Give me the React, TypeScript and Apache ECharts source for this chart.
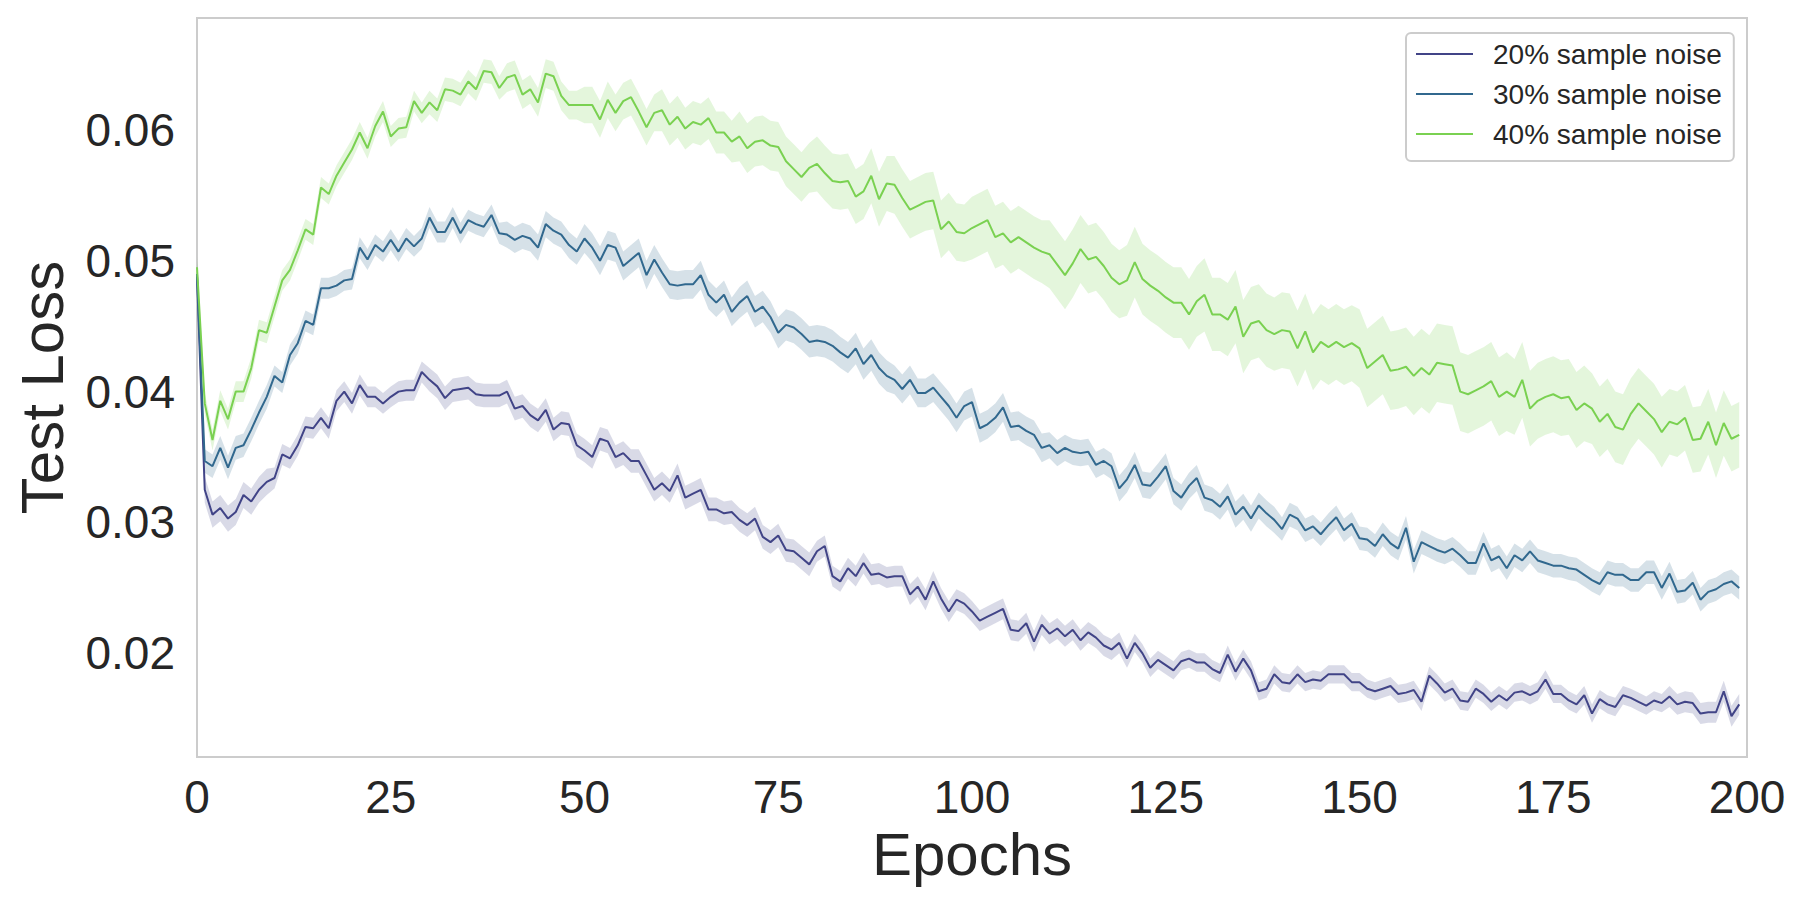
import React, { useEffect, useRef } from "react";
import * as echarts from "echarts";

// ---- data ----
const EPOCHS: number[] = Array.from({ length: 200 }, (_, i) => i);

const NAMES = ["20% sample noise", "30% sample noise", "40% sample noise"];
const COLORS = ["#414487", "#31688e", "#7ad151"];

const LOSS_20 = [
  0.0488, 0.0325, 0.0306, 0.0311, 0.0303, 0.0308, 0.0321, 0.0316, 0.0325, 0.0331,
  0.0334, 0.0352, 0.0349, 0.0359, 0.0373, 0.0372, 0.0380, 0.0372, 0.0393, 0.0400,
  0.0391, 0.0405, 0.0396, 0.0396, 0.0391, 0.0396, 0.0400, 0.0401, 0.0401, 0.0415,
  0.0409, 0.0404, 0.0395, 0.0401, 0.0402, 0.0403, 0.0398, 0.0397, 0.0397, 0.0397,
  0.0400, 0.0387, 0.0389, 0.0382, 0.0378, 0.0386, 0.0371, 0.0376, 0.0375, 0.0359,
  0.0355, 0.0350, 0.0364, 0.0362, 0.0350, 0.0353, 0.0347, 0.0347, 0.0336, 0.0325,
  0.0330, 0.0324, 0.0336, 0.0319, 0.0322, 0.0325, 0.0310, 0.0310, 0.0307, 0.0308,
  0.0302, 0.0298, 0.0303, 0.0289, 0.0285, 0.0290, 0.0279, 0.0278, 0.0273, 0.0268,
  0.0278, 0.0282, 0.0259, 0.0255, 0.0265, 0.0259, 0.0269, 0.0260, 0.0261, 0.0258,
  0.0259, 0.0259, 0.0245, 0.0251, 0.0241, 0.0255, 0.0242, 0.0232, 0.0241, 0.0238,
  0.0232, 0.0225, 0.0228, 0.0231, 0.0234, 0.0218, 0.0217, 0.0223, 0.0209, 0.0222,
  0.0215, 0.0219, 0.0213, 0.0218, 0.0210, 0.0216, 0.0212, 0.0206, 0.0203, 0.0208,
  0.0196, 0.0208, 0.0200, 0.0189, 0.0195, 0.0191, 0.0187, 0.0194, 0.0196, 0.0193,
  0.0193, 0.0188, 0.0185, 0.0199, 0.0186, 0.0196, 0.0187, 0.0171, 0.0173, 0.0184,
  0.0178, 0.0177, 0.0184, 0.0178, 0.0180, 0.0179, 0.0184, 0.0184, 0.0184, 0.0178,
  0.0178, 0.0173, 0.0171, 0.0173, 0.0175, 0.0169, 0.0170, 0.0172, 0.0163, 0.0183,
  0.0177, 0.0170, 0.0173, 0.0164, 0.0163, 0.0173, 0.0169, 0.0163, 0.0168, 0.0164,
  0.0170, 0.0171, 0.0168, 0.0171, 0.0180, 0.0169, 0.0169, 0.0164, 0.0161, 0.0168,
  0.0154, 0.0165, 0.0161, 0.0159, 0.0168, 0.0166, 0.0163, 0.0160, 0.0164, 0.0162,
  0.0167, 0.0161, 0.0163, 0.0162, 0.0154, 0.0155, 0.0155, 0.0171, 0.0152, 0.0161,
];

const LOSS_30 = [
  0.0490, 0.0347, 0.0343, 0.0357, 0.0342, 0.0357, 0.0359, 0.0371, 0.0384, 0.0396,
  0.0412, 0.0407, 0.0428, 0.0437, 0.0454, 0.0451, 0.0479, 0.0479, 0.0481, 0.0485,
  0.0486, 0.0510, 0.0501, 0.0512, 0.0507, 0.0516, 0.0507, 0.0517, 0.0511, 0.0517,
  0.0533, 0.0522, 0.0522, 0.0533, 0.0521, 0.0531, 0.0528, 0.0526, 0.0535, 0.0521,
  0.0520, 0.0516, 0.0519, 0.0517, 0.0510, 0.0528, 0.0523, 0.0520, 0.0512, 0.0507,
  0.0517, 0.0510, 0.0500, 0.0512, 0.0510, 0.0496, 0.0501, 0.0506, 0.0489, 0.0501,
  0.0491, 0.0482, 0.0481, 0.0482, 0.0482, 0.0489, 0.0474, 0.0468, 0.0474, 0.0461,
  0.0468, 0.0473, 0.0461, 0.0465, 0.0457, 0.0445, 0.0451, 0.0449, 0.0444, 0.0438,
  0.0439, 0.0438, 0.0435, 0.0430, 0.0426, 0.0433, 0.0421, 0.0428, 0.0418, 0.0412,
  0.0409, 0.0402, 0.0409, 0.0399, 0.0399, 0.0403, 0.0396, 0.0389, 0.0380, 0.0389,
  0.0392, 0.0372, 0.0375, 0.0380, 0.0388, 0.0373, 0.0374, 0.0370, 0.0367, 0.0357,
  0.0359, 0.0353, 0.0357, 0.0354, 0.0353, 0.0354, 0.0344, 0.0347, 0.0343, 0.0326,
  0.0333, 0.0344, 0.0329, 0.0328, 0.0335, 0.0343, 0.0324, 0.0319, 0.0328, 0.0334,
  0.0319, 0.0317, 0.0312, 0.0320, 0.0306, 0.0312, 0.0303, 0.0313, 0.0307, 0.0302,
  0.0295, 0.0306, 0.0303, 0.0294, 0.0297, 0.0291, 0.0298, 0.0304, 0.0294, 0.0299,
  0.0288, 0.0287, 0.0282, 0.0291, 0.0284, 0.0280, 0.0296, 0.0270, 0.0285, 0.0282,
  0.0279, 0.0277, 0.0280, 0.0275, 0.0269, 0.0269, 0.0284, 0.0271, 0.0274, 0.0265,
  0.0275, 0.0271, 0.0278, 0.0271, 0.0269, 0.0267, 0.0267, 0.0265, 0.0264, 0.0260,
  0.0256, 0.0253, 0.0262, 0.0260, 0.0260, 0.0256, 0.0256, 0.0262, 0.0262, 0.0250,
  0.0261, 0.0247, 0.0248, 0.0254, 0.0241, 0.0247, 0.0249, 0.0253, 0.0255, 0.0250,
];

const LOSS_40 = [
  0.0495, 0.0391, 0.0363, 0.0393, 0.0379, 0.0400, 0.0400, 0.0418, 0.0447, 0.0445,
  0.0465, 0.0485, 0.0493, 0.0508, 0.0524, 0.0520, 0.0556, 0.0551, 0.0565, 0.0575,
  0.0585, 0.0598, 0.0586, 0.0603, 0.0614, 0.0595, 0.0601, 0.0602, 0.0622, 0.0613,
  0.0621, 0.0615, 0.0631, 0.0630, 0.0627, 0.0637, 0.0631, 0.0645, 0.0644, 0.0632,
  0.0640, 0.0642, 0.0627, 0.0631, 0.0621, 0.0643, 0.0641, 0.0626, 0.0619, 0.0619,
  0.0619, 0.0619, 0.0608, 0.0623, 0.0613, 0.0622, 0.0625, 0.0614, 0.0602, 0.0613,
  0.0615, 0.0604, 0.0610, 0.0601, 0.0606, 0.0604, 0.0609, 0.0598, 0.0598, 0.0591,
  0.0595, 0.0586, 0.0591, 0.0592, 0.0588, 0.0587, 0.0576, 0.0570, 0.0564, 0.0571,
  0.0574, 0.0567, 0.0561, 0.0560, 0.0561, 0.0549, 0.0553, 0.0565, 0.0547, 0.0559,
  0.0558, 0.0548, 0.0539, 0.0542, 0.0545, 0.0546, 0.0524, 0.0530, 0.0522, 0.0521,
  0.0525, 0.0528, 0.0531, 0.0518, 0.0521, 0.0514, 0.0518, 0.0514, 0.0510, 0.0507,
  0.0505, 0.0497, 0.0489, 0.0498, 0.0509, 0.0501, 0.0503, 0.0496, 0.0487, 0.0482,
  0.0485, 0.0499, 0.0486, 0.0481, 0.0477, 0.0472, 0.0468, 0.0468, 0.0459, 0.0469,
  0.0474, 0.0459, 0.0459, 0.0455, 0.0465, 0.0442, 0.0452, 0.0454, 0.0447, 0.0444,
  0.0447, 0.0446, 0.0433, 0.0446, 0.0430, 0.0438, 0.0434, 0.0438, 0.0434, 0.0437,
  0.0433, 0.0418, 0.0423, 0.0428, 0.0416, 0.0417, 0.0419, 0.0412, 0.0418, 0.0413,
  0.0422, 0.0421, 0.0420, 0.0400, 0.0398, 0.0401, 0.0404, 0.0408, 0.0396, 0.0400,
  0.0396, 0.0409, 0.0387, 0.0393, 0.0396, 0.0398, 0.0395, 0.0396, 0.0386, 0.0391,
  0.0387, 0.0377, 0.0383, 0.0373, 0.0371, 0.0383, 0.0391, 0.0385, 0.0379, 0.0369,
  0.0377, 0.0375, 0.0380, 0.0363, 0.0364, 0.0377, 0.0359, 0.0376, 0.0364, 0.0367,
];

// half-width of the shaded confidence band, one value per block of 10 epochs
const BAND_20 = [0.0010, 0.0008, 0.0008, 0.0009, 0.0009, 0.0009, 0.0009, 0.0009, 0.0008, 0.0008,
  0.0008, 0.0008, 0.0007, 0.0007, 0.0007, 0.0007, 0.0007, 0.0007, 0.0007, 0.0008];
const BAND_30 = [0.0009, 0.0008, 0.0008, 0.0008, 0.0010, 0.0011, 0.0011, 0.0012, 0.0012, 0.0011,
  0.0011, 0.0010, 0.0010, 0.0010, 0.0009, 0.0009, 0.0009, 0.0009, 0.0009, 0.0009];
const BAND_40 = [0.0008, 0.0008, 0.0008, 0.0009, 0.0011, 0.0014, 0.0016, 0.0019, 0.0021, 0.0022,
  0.0024, 0.0026, 0.0027, 0.0028, 0.0029, 0.0030, 0.0030, 0.0029, 0.0027, 0.0025];

const X_TICKS = [0, 25, 50, 75, 100, 125, 150, 175, 200];

const FONT = "'Liberation Sans', Arial, 'DejaVu Sans', sans-serif";
const TEXT = "#262626";

function bandSeries(mean: number[], band: number[], color: string) {
  return {
    type: "custom",
    silent: true,
    z: 1,
    clip: true,
    data: [[EPOCHS[0], mean[0]]],
    encode: { x: 0, y: 1 },
    renderItem: (_params: any, api: any) => {
      const pts: number[][] = [];
      for (let i = 0; i < mean.length; i++) {
        pts.push(api.coord([EPOCHS[i], mean[i] + band[Math.floor(i / 10)]]));
      }
      for (let i = mean.length - 1; i >= 0; i--) {
        pts.push(api.coord([EPOCHS[i], mean[i] - band[Math.floor(i / 10)]]));
      }
      return {
        type: "polygon",
        shape: { points: pts },
        style: { fill: color, opacity: 0.2, stroke: "none" },
      };
    },
  };
}

function lineSeries(name: string, mean: number[], color: string) {
  return {
    type: "line",
    name,
    z: 3,
    symbol: "none",
    showSymbol: false,
    color,
    lineStyle: { width: 2, color },
    data: EPOCHS.map((e, i) => [e, mean[i]]),
  };
}

export default function App() {
  const ref = useRef<HTMLDivElement>(null);

  useEffect(() => {
    if (!ref.current) return;
    const chart = echarts.init(ref.current, undefined, { renderer: "svg" });
    const means = [LOSS_20, LOSS_30, LOSS_40];
    const bands = [BAND_20, BAND_30, BAND_40];
    chart.setOption({
      animation: false,
      backgroundColor: "#ffffff",
      textStyle: { fontFamily: FONT },
      grid: {
        left: 197,
        right: 59,
        top: 18,
        bottom: 150,
        show: true,
        borderColor: "#cccccc",
        borderWidth: 2,
        backgroundColor: "transparent",
      },
      legend: {
        data: NAMES.map((n) => ({ name: n, icon: "rect" })),
        orient: "vertical",
        left: 1406,
        top: 33,
        itemWidth: 57,
        itemHeight: 2,
        itemGap: 12,
        padding: [7, 12, 13, 10],
        backgroundColor: "#ffffff",
        borderColor: "#cccccc",
        borderWidth: 2,
        borderRadius: 5,
        textStyle: {
          fontSize: 28,
          color: TEXT,
          fontFamily: FONT,
          lineHeight: 28,
          padding: [0, 0, 0, 15],
        },
      },
      xAxis: {
        type: "value",
        min: X_TICKS[0],
        max: X_TICKS[X_TICKS.length - 1],
        interval: 25,
        name: "Epochs",
        nameLocation: "middle",
        nameGap: 66,
        nameTextStyle: { fontSize: 60, color: TEXT, fontFamily: FONT },
        axisLine: { show: false },
        axisTick: { show: false },
        splitLine: { show: false },
        axisLabel: { fontSize: 46, color: TEXT, margin: 17, fontFamily: FONT },
      },
      yAxis: {
        type: "value",
        min: 0.01208,
        max: 0.06855,
        splitNumber: 5,
        name: "Test Loss",
        nameLocation: "middle",
        nameRotate: 90,
        nameGap: 125,
        nameTextStyle: { fontSize: 60, color: TEXT, fontFamily: FONT },
        axisLine: { show: false },
        axisTick: { show: false },
        splitLine: { show: false },
        axisLabel: {
          fontSize: 46,
          color: TEXT,
          margin: 22,
          fontFamily: FONT,
          formatter: (v: number) =>
            Math.abs(v * 100 - Math.round(v * 100)) < 1e-6 ? v.toFixed(2) : "",
        },
      },
      series: [
        ...means.map((m, k) => bandSeries(m, bands[k], COLORS[k])),
        ...means.map((m, k) => lineSeries(NAMES[k], m, COLORS[k])),
      ],
    });
    return () => chart.dispose();
  }, []);

  return (
    <div
      ref={ref}
      style={{ position: "fixed", left: 0, top: 0, width: 1806, height: 907 }}
    />
  );
}
